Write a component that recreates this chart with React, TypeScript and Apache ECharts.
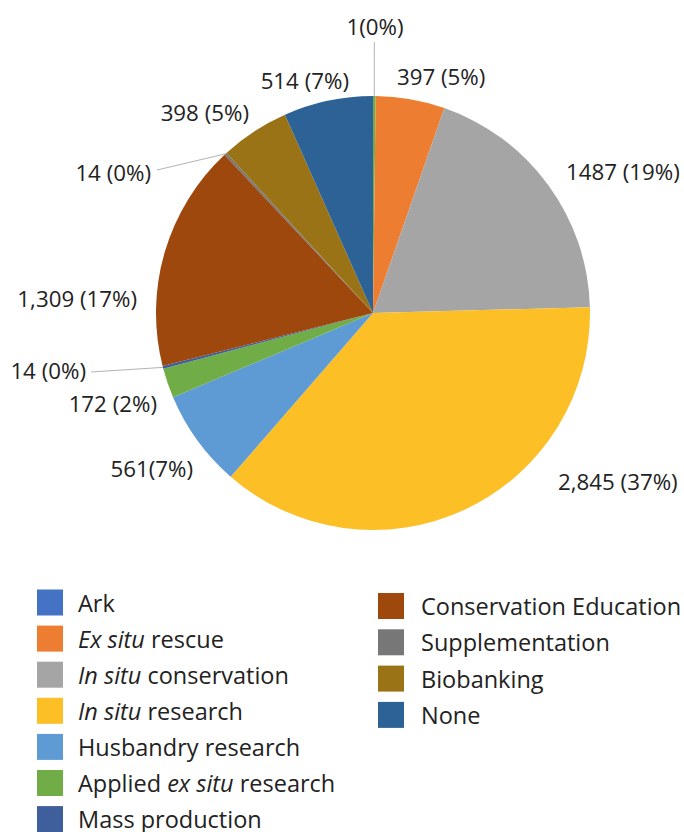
import React, { useEffect, useRef } from 'react';
import * as echarts from 'echarts';

const categories = [
  'Ark',
  'Ex situ rescue',
  'In situ conservation',
  'In situ research',
  'Husbandry research',
  'Applied ex situ research',
  'Mass production',
  'Conservation Education',
  'Supplementation',
  'Biobanking',
  'None',
];
const legendLabels = [
  'Ark',
  '{i|Ex situ} rescue',
  '{i|In situ} conservation',
  '{i|In situ} research',
  'Husbandry research',
  'Applied {i|ex situ} research',
  'Mass production',
  'Conservation Education',
  'Supplementation',
  'Biobanking',
  'None',
];
const values = [1, 397, 1487, 2845, 561, 172, 14, 1309, 14, 398, 514];
const labelTexts = [
  '1(0%)',
  '397 (5%)',
  '1487 (19%)',
  '2,845 (37%)',
  '561(7%)',
  '172 (2%)',
  '14 (0%)',
  '1,309 (17%)',
  '14 (0%)',
  '398 (5%)',
  '514 (7%)',
];
const colors = [
  '#4472C4', '#ED7D31', '#A5A5A5', '#FCBF26', '#5E9BD5', '#70AD47',
  '#3E5F9B', '#9E480E', '#777777', '#997316', '#2C6296',
];
const arkSliceColor = '#70AD47';

// label anchor placement (x, y, align) and optional leader-line end
const labelPlacement: any[] = [
  { x: 375, y: 26, align: 'center', line: [null, 42] },
  { x: 397, y: 76, align: 'left' },
  { x: 566, y: 171, align: 'left' },
  { x: 558, y: 481, align: 'left' },
  { x: 193, y: 468, align: 'right' },
  { x: 157, y: 403, align: 'right' },
  { x: 86, y: 370, align: 'right', line: [91, 372] },
  { x: 137, y: 298, align: 'right' },
  { x: 151, y: 172, align: 'right', line: [157, 170] },
  { x: 249, y: 112, align: 'right' },
  { x: 349, y: 80, align: 'right' },
];

const FONT = "'Open Sans', 'Noto Sans', sans-serif";
const TEXT_COLOR = '#222222';
const LEGEND_SIZE = 23.5;
const LABEL_SIZE = 22.3;

export default function App() {
  const ref = useRef<HTMLDivElement>(null);

  useEffect(() => {
    document.body.style.margin = '0';
    if (!ref.current) return;
    const chart = echarts.init(ref.current, null, { renderer: 'svg' });

    const data = categories.map((name, i) => ({
      name,
      value: values[i],
      itemStyle: { color: i === 0 ? arkSliceColor : colors[i] },
      labelLine: { show: !!labelPlacement[i].line },
    }));

    const legendFormatter = (name: string) => legendLabels[categories.indexOf(name)];
    const legendText = (padLeft: number) => ({
      fontSize: LEGEND_SIZE,
      fontFamily: FONT,
      color: TEXT_COLOR,
      padding: [0, 0, 0, padLeft],
      rich: {
        i: { fontStyle: 'italic', fontSize: LEGEND_SIZE, fontFamily: FONT, color: TEXT_COLOR },
      },
    });
    const legendData = (from: number, to: number) =>
      categories.slice(from, to).map((name, k) => ({
        name,
        itemStyle: { color: colors[from + k], borderWidth: 0 },
      }));

    chart.setOption({
      animation: false,
      legend: [
        {
          data: legendData(0, 7),
          orient: 'vertical',
          left: 37,
          top: 589.5,
          height: 260,
          padding: 0,
          icon: 'rect',
          itemWidth: 26,
          itemHeight: 26,
          itemGap: 10.1,
          selectedMode: false,
          formatter: legendFormatter,
          textStyle: legendText(10),
        },
        {
          data: legendData(7, 11),
          orient: 'vertical',
          left: 378,
          top: 593,
          height: 200,
          padding: 0,
          icon: 'rect',
          itemWidth: 26,
          itemHeight: 26,
          itemGap: 10.3,
          selectedMode: false,
          formatter: legendFormatter,
          textStyle: legendText(12),
        },
      ],
      series: [
        {
          type: 'pie',
          center: [373, 313],
          radius: 217,
          startAngle: 90,
          clockwise: true,
          minAngle: 0.7,
          avoidLabelOverlap: false,
          data,
          itemStyle: { borderWidth: 0 },
          label: {
            show: true,
            position: 'outside',
            fontSize: LABEL_SIZE,
            fontFamily: FONT,
            color: TEXT_COLOR,
            formatter: (p: any) => labelTexts[p.dataIndex],
          },
          labelLine: {
            show: false,
            length: 10,
            length2: 10,
            lineStyle: { color: '#b3b3b3', width: 1 },
          },
          labelLayout: (p: any) => {
            const s = labelPlacement[p.dataIndex];
            const out: any = { x: s.x, y: s.y, align: s.align, verticalAlign: 'middle' };
            if (s.line && p.labelLinePoints) {
              const start = p.labelLinePoints[0];
              const end = [s.line[0] == null ? start[0] : s.line[0], s.line[1]];
              out.labelLinePoints = [start, end, end];
            }
            return out;
          },
          emphasis: { disabled: true },
        },
      ],
    });

    return () => chart.dispose();
  }, []);

  return <div ref={ref} style={{ width: 684, height: 832 }} />;
}
